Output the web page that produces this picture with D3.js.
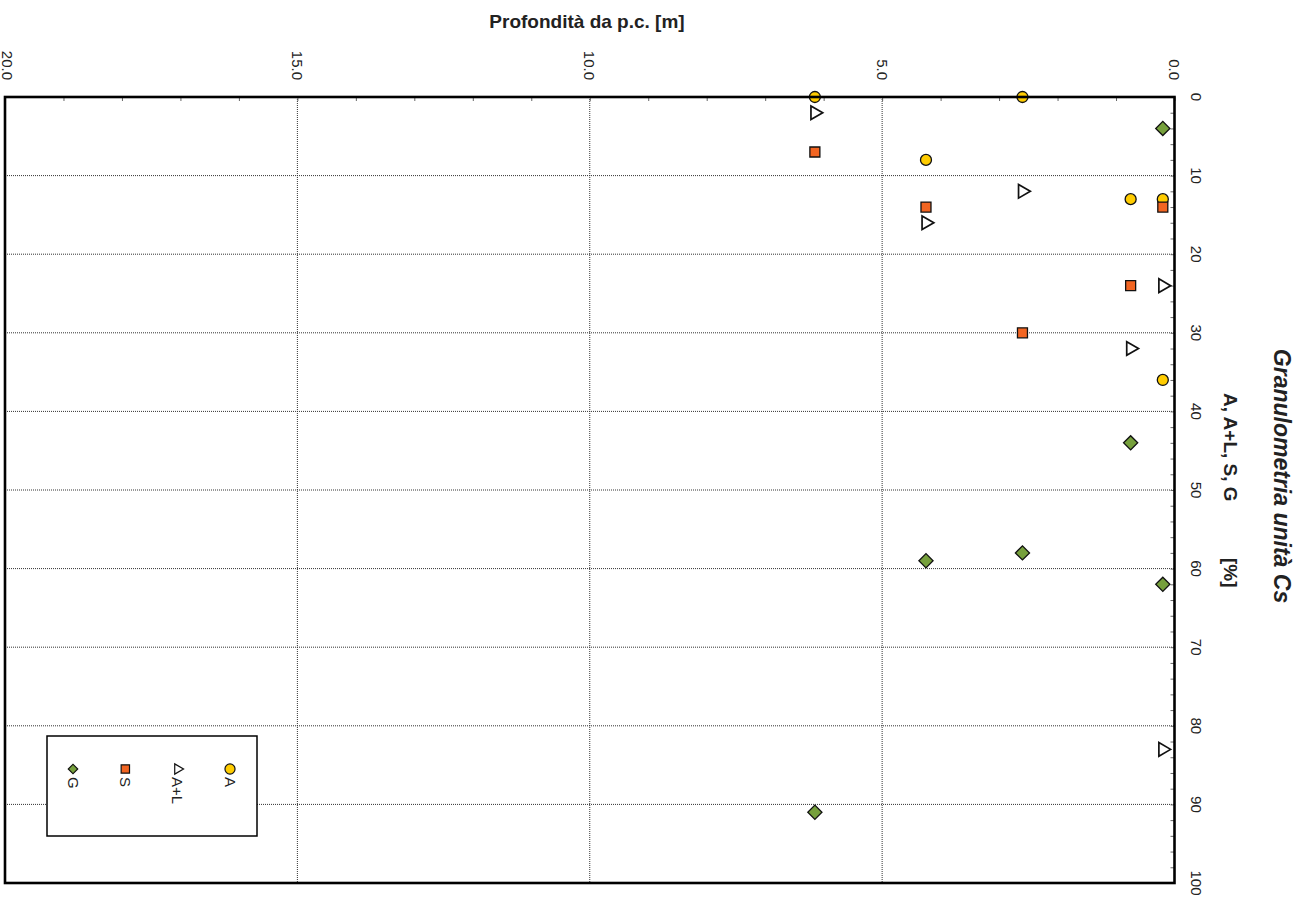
<!DOCTYPE html>
<html lang="it">

<head>
  <meta charset="UTF-8" />
  <title>Granulometria unità Cs</title>
  <script src="https://d3js.org/d3.v7.min.js"></script>
  <style>
    body {
      margin: 0;
      background: #fff;
      font-family: Arial, "Liberation Sans", sans-serif;
    }

    .grid line {
      stroke: #333;
      stroke-width: 1;
      stroke-dasharray: 1, 1;
    }

    .minor line {
      stroke: #666;
    }

    .minor path {
      display: none;
    }

    .tick-label {
      font-size: 15px;
      fill: #222;
    }

    .title {
      font-weight: bold;
      fill: #222;
    }
  </style>
</head>

<body>
  <svg width="1301" height="903"></svg>

  <script>
    // sample depths [m] and percentages
    const dataA = [
      { depth: 6.15, pct: 0 }, { depth: 2.6, pct: 0 }, { depth: 4.25, pct: 8 },
      { depth: 0.75, pct: 13 }, { depth: 0.2, pct: 13 }, { depth: 0.2, pct: 36 }
    ];
    const dataAL = [
      { depth: 6.15, pct: 2 }, { depth: 2.6, pct: 12 }, { depth: 4.25, pct: 16 },
      { depth: 0.2, pct: 24 }, { depth: 0.75, pct: 32 }, { depth: 0.2, pct: 83 }
    ];
    const dataS = [
      { depth: 6.15, pct: 7 }, { depth: 4.25, pct: 14 }, { depth: 0.2, pct: 14 },
      { depth: 0.75, pct: 24 }, { depth: 2.6, pct: 30 }
    ];
    const dataG = [
      { depth: 0.2, pct: 4 }, { depth: 0.75, pct: 44 }, { depth: 2.6, pct: 58 },
      { depth: 4.25, pct: 59 }, { depth: 0.2, pct: 62 }, { depth: 6.15, pct: 91 }
    ];
    const depthTicks = [0, 5, 10, 15, 20];
    const pctTicks = [0, 10, 20, 30, 40, 50, 60, 70, 80, 90, 100];
    const legendLabels = ["A", "A+L", "S", "G"];

    const svg = d3.select("svg");
    const plotLeft = 5, plotRight = 1174.5, plotTop = 97, plotBottom = 883;

    // chart is drawn turned a quarter: depth runs right-to-left, % runs top-to-bottom
    const x = d3.scaleLinear().domain([0, 20]).range([plotRight, plotLeft]);
    const y = d3.scaleLinear().domain([0, 100]).range([plotTop, plotBottom]);

    // dotted grid
    const grid = svg.append("g").attr("class", "grid");
    grid.selectAll(".vg")
      .data(depthTicks.filter(d => d > 0 && d < 20))
      .join("line")
      .attr("class", "vg")
      .attr("x1", d => x(d)).attr("x2", d => x(d))
      .attr("y1", plotTop).attr("y2", plotBottom);
    grid.selectAll(".hg")
      .data(pctTicks.filter(d => d > 0 && d < 100))
      .join("line")
      .attr("class", "hg")
      .attr("x1", plotLeft).attr("x2", plotRight)
      .attr("y1", d => y(d)).attr("y2", d => y(d));

    // minor ticks pointing inward
    svg.append("g")
      .attr("class", "minor")
      .attr("transform", `translate(0,${plotTop})`)
      .call(d3.axisTop(x).tickValues(d3.range(0, 21, 1)).tickSize(-4).tickFormat(""));
    svg.append("g")
      .attr("class", "minor")
      .attr("transform", `translate(${plotRight},0)`)
      .call(d3.axisRight(y).tickValues(d3.range(0, 101, 2)).tickSize(-4).tickFormat(""));

    // tick labels, rotated (the leftmost one is nudged in so it stays on the page)
    svg.selectAll(".dlab")
      .data(depthTicks)
      .join("text")
      .attr("class", "tick-label dlab")
      .attr("transform", d => `translate(${Math.max(x(d), 7)},80) rotate(90)`)
      .attr("text-anchor", "end")
      .attr("dominant-baseline", "central")
      .text(d => d.toFixed(1));
    svg.selectAll(".plab")
      .data(pctTicks)
      .join("text")
      .attr("class", "tick-label plab")
      .attr("transform", d => `translate(1196,${y(d)}) rotate(90)`)
      .attr("text-anchor", "middle")
      .attr("dominant-baseline", "central")
      .text(d => d);

    // titles
    svg.append("text")
      .attr("class", "title")
      .attr("x", 587).attr("y", 28)
      .attr("text-anchor", "middle")
      .style("font-size", "19px")
      .text("Profondità da p.c. [m]");
    svg.append("text")
      .attr("class", "title")
      .attr("transform", "translate(1282,476) rotate(90)")
      .attr("text-anchor", "middle")
      .attr("dominant-baseline", "central")
      .style("font-size", "23px")
      .style("font-style", "italic")
      .text("Granulometria unità Cs");
    svg.append("text")
      .attr("class", "title")
      .attr("transform", "translate(1230,393) rotate(90)")
      .attr("dominant-baseline", "central")
      .style("font-size", "19px")
      .text("A, A+L, S, G");
    svg.append("text")
      .attr("class", "title")
      .attr("transform", "translate(1230,558) rotate(90)")
      .attr("dominant-baseline", "central")
      .style("font-size", "19px")
      .text("[%]");

    // markers
    const styles = {
      A: { fill: "#ffcc00", sym: d3.symbolCircle, size: 95, legSize: 80, rot: 0, sw: 1.3 },
      "A+L": { fill: "#fff", sym: d3.symbolTriangle, size: 80, legSize: 45, rot: 90, sw: 1.7 },
      S: { fill: "#f26522", sym: d3.symbolSquare, size: 100, legSize: 70, rot: 0, sw: 1.3 },
      G: { fill: "#76a03c", sym: d3.symbolSquare, size: 100, legSize: 45, rot: 45, sw: 1.3 }
    };
    const series = [["A", dataA], ["A+L", dataAL], ["S", dataS], ["G", dataG]];
    const marks = svg.append("g");
    series.forEach(([name, data]) => {
      const st = styles[name];
      marks.selectAll(null)
        .data(data)
        .join("path")
        .attr("d", d3.symbol(st.sym, st.size)())
        .attr("transform", d => `translate(${x(d.depth)},${y(d.pct)}) rotate(${st.rot})`)
        .attr("fill", st.fill)
        .attr("stroke", "#111")
        .attr("stroke-width", st.sw);
    });

    // frame
    svg.append("rect")
      .attr("x", plotLeft).attr("y", plotTop)
      .attr("width", plotRight - plotLeft).attr("height", plotBottom - plotTop)
      .attr("fill", "none")
      .attr("stroke", "#000")
      .attr("stroke-width", 2.6);

    // legend
    const legend = svg.append("g");
    legend.append("rect")
      .attr("x", 47).attr("y", 736)
      .attr("width", 210).attr("height", 100)
      .attr("fill", "#fff")
      .attr("stroke", "#000")
      .attr("stroke-width", 1.5);
    const legendX = d3.scalePoint().domain(legendLabels).range([230, 73]);
    legendLabels.forEach(name => {
      const st = styles[name];
      const lx = legendX(name);
      legend.append("path")
        .attr("d", d3.symbol(st.sym, st.legSize)())
        .attr("transform", `translate(${lx},769) rotate(${st.rot})`)
        .attr("fill", st.fill)
        .attr("stroke", "#111")
        .attr("stroke-width", 1.2);
      legend.append("text")
        .attr("transform", `translate(${lx},777) rotate(90)`)
        .attr("dominant-baseline", "central")
        .style("font-size", "15px")
        .style("fill", "#222")
        .text(name);
    });
  </script>
</body>

</html>
